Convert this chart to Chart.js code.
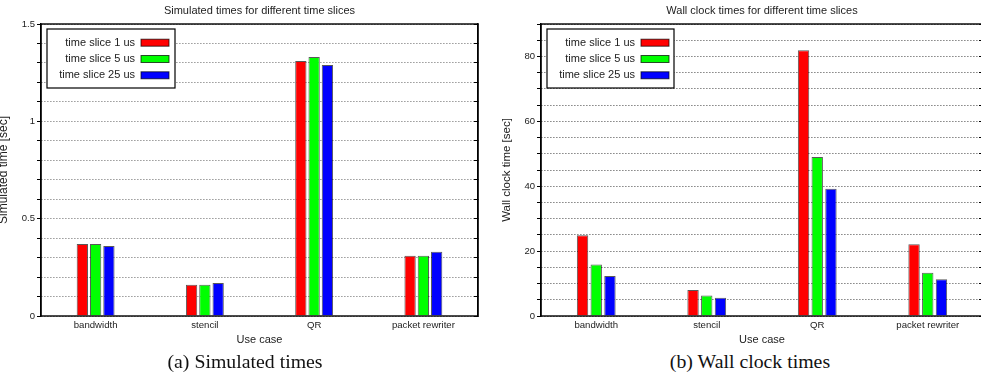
<!DOCTYPE html>
<html><head><meta charset="utf-8">
<script src="https://cdn.jsdelivr.net/npm/chart.js@4.4.1/dist/chart.umd.min.js"></script>
<style>
html,body{margin:0;padding:0;background:#fff;width:981px;height:380px;overflow:hidden;position:relative;}
canvas{position:absolute;top:0;}
#c1{left:-6px;} #c2{left:490px;}
.cap{position:absolute;top:352px;font-family:"Liberation Serif","Times New Roman",serif;font-size:18px;line-height:20px;color:#111;white-space:nowrap;transform:translateX(-50%) scaleX(1.1);}
</style></head><body>
<canvas id="c2" width="544" height="350"></canvas>
<canvas id="c1" width="531" height="350"></canvas>
<div class="cap" style="left:244.5px">(a) Simulated times</div>
<div class="cap" style="left:750px">(b) Wall clock times</div>
<script>
const categories = ['bandwidth', 'stencil', 'QR', 'packet rewriter'];
const seriesLabels = ['time slice 1 us', 'time slice 5 us', 'time slice 25 us'];
const seriesColors = ['#ff0000', '#00ff00', '#0000ff'];
const simulated1 = [0.37, 0.16, 1.31, 0.31];
const simulated5 = [0.37, 0.16, 1.33, 0.31];
const simulated25 = [0.36, 0.17, 1.29, 0.33];
const wall1 = [24.9, 8.0, 81.9, 22.1];
const wall5 = [15.9, 6.3, 49.0, 13.3];
const wall25 = [12.3, 5.6, 39.2, 11.3];
const simTickLabels = [0, 0.5, 1, 1.5];
const wallTickLabels = [0, 20, 40, 60, 80];

Chart.defaults.font.family = '"Liberation Sans", Arial, Helvetica, sans-serif';
Chart.defaults.color = '#222';

const framePlugin = {
  id: 'frame',
  afterDraw(chart) {
    const {ctx, chartArea: a} = chart;
    ctx.save();
    ctx.strokeStyle = '#000';
    ctx.lineWidth = 1.4;
    ctx.strokeRect(a.left, a.top, a.right - a.left, a.bottom - a.top);
    ctx.restore();
  }
};

const boxLegend = {
  id: 'boxLegend',
  afterDraw(chart, args, opts) {
    const {ctx, chartArea: a} = chart;
    const x0 = a.left + 6, y0 = a.top + 5, w = opts.width, h = 59;
    ctx.save();
    ctx.fillStyle = '#fff';
    ctx.fillRect(x0, y0, w, h);
    ctx.strokeStyle = '#000';
    ctx.lineWidth = 1.2;
    ctx.strokeRect(x0, y0, w, h);
    ctx.font = '11px "Liberation Sans", Arial, sans-serif';
    ctx.textAlign = 'right';
    ctx.textBaseline = 'middle';
    chart.data.datasets.forEach((ds, i) => {
      const cy = y0 + 13.7 + i * 16.3;
      ctx.fillStyle = '#222';
      ctx.fillText(ds.label, a.left + 94, cy);
      ctx.fillStyle = ds.backgroundColor;
      ctx.fillRect(a.left + 100, cy - 3.5, 28, 7);
      ctx.strokeStyle = 'rgba(0,0,0,0.7)';
      ctx.lineWidth = 1;
      ctx.strokeRect(a.left + 100, cy - 3.5, 28, 7);
    });
    ctx.restore();
  }
};

function makeChart(id, cfg) {
  const labelCb = (v) => cfg.labelled.some(t => Math.abs(t - v) < 1e-9) ? String(v) : '';
  return new Chart(document.getElementById(id), {
    type: 'bar',
    data: {
      labels: categories,
      datasets: cfg.series.map((d, i) => ({
        label: seriesLabels[i],
        data: d,
        backgroundColor: seriesColors[i],
        borderColor: 'rgba(0,0,0,0.65)',
        borderWidth: 1,
        categoryPercentage: cfg.cat,
        barPercentage: cfg.bar
      }))
    },
    options: {
      responsive: false,
      animation: false,
      layout: {padding: 0},
      plugins: {
        legend: {display: false},
        tooltip: {enabled: false},
        title: {display: true, text: cfg.title, font: {size: 11, weight: 'normal'}, color: '#222', padding: {top: 4.4, bottom: 6.4}},
        boxLegend: {width: cfg.legendW}
      },
      scales: {
        x: {
          grid: {display: false, drawTicks: false},
          border: {display: false},
          ticks: {font: {size: 9.6}, color: '#222', padding: 3.7, autoSkip: false, maxRotation: 0},
          title: {display: true, text: 'Use case', font: {size: 11}, color: '#222', padding: {top: 0, bottom: 3.4}},
          afterFit(s) { s.height = 34; }
        },
        y: {
          min: 0, max: cfg.max,
          ticks: {stepSize: cfg.step, maxTicksLimit: 100, autoSkip: false, font: {size: 9.5}, color: '#222', padding: 2, callback: labelCb},
          grid: {color: cfg.gridColor, tickColor: '#000', tickLength: 4, lineWidth: 1},
          border: {display: true, color: '#000', width: 1.4, dash: [1, 2]},
          title: {display: true, text: cfg.ytitle, font: {size: cfg.ytSize}, color: '#222', padding: {top: cfg.ytPad, bottom: 0}},
          afterFit(s) { s.width = cfg.yw; }
        },
        y2: {
          position: 'right',
          min: 0, max: cfg.max,
          ticks: {stepSize: cfg.step, maxTicksLimit: 100, autoSkip: false, callback: () => ''},
          grid: {drawOnChartArea: false, tickLength: -4, tickColor: '#000'},
          border: {display: true, color: '#000', width: 1.4},
          afterFit(s) { s.width = cfg.yw; }
        }
      }
    },
    plugins: [boxLegend, framePlugin]
  });
}

makeChart('c1', {
  title: 'Simulated times for different time slices',
  series: [simulated1, simulated5, simulated25],
  max: 1.5, step: 0.1, labelled: simTickLabels,
  cat: 0.365, bar: 0.85, gridColor: '#666',
  ytitle: 'Simulated time [sec]', ytSize: 12, ytPad: 2.8, yw: 47, legendW: 128
});
makeChart('c2', {
  title: 'Wall clock times for different time slices',
  series: [wall1, wall5, wall25],
  max: 90, step: 5, labelled: wallTickLabels,
  cat: 0.372, bar: 0.83, gridColor: '#444',
  ytitle: 'Wall clock time [sec]', ytSize: 11.5, ytPad: 10.1, yw: 51, legendW: 127
});
</script>
</body></html>
